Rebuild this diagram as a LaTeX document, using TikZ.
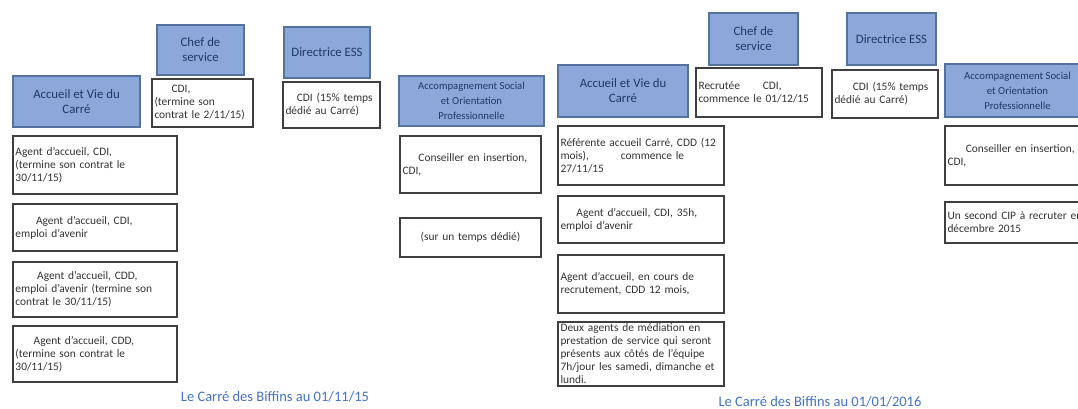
\documentclass[tikz,border=0pt]{standalone}
\usepackage{fontspec}
\setmainfont{Carlito}
\usepackage{xcolor}
\definecolor{headfill}{HTML}{8CA8DA}
\definecolor{headline}{HTML}{55719E}
\definecolor{headtext}{HTML}{1F3A68}
\definecolor{cardline}{HTML}{3F3F3F}
\definecolor{cardtext}{HTML}{333333}
\definecolor{captext}{HTML}{4472C4}
\tikzset{
  headbox/.style={draw=headline, line width=1.2pt, fill=headfill, text=headtext,
    align=center, inner sep=0pt, font=\fontsize{12.8}{15}\selectfont},
  cardbox/.style={draw=cardline, line width=1.2pt, fill=white, text=cardtext,
    align=left, inner xsep=2.5pt, inner ysep=0pt, minimum width=#1, text width=#1-5,
    font=\fontsize{11.4}{13}\selectfont},
  captionline/.style={text=captext, font=\fontsize{14.5}{16}\selectfont}
}

\begin{document}
\begin{tikzpicture}[x=1pt,y=-1pt]
\useasboundingbox (0,0) rectangle (1078,409);
\clip (0,0) rectangle (1078,409);

% au 01/11/15
\node[headbox, minimum width=127, minimum height=51] (accL) at (76.5,101.5) {Accueil et Vie du\\Carré};
\node[headbox, minimum width=87, minimum height=50] (chefL) at (200.5,50) {Chef de\\service};
\node[headbox, minimum width=86, minimum height=51] (dirL) at (327,52.5) {Directrice ESS};
\node[headbox, minimum width=145, minimum height=50, font=\fontsize{10.7}{15}\selectfont] (asopL) at (471.5,101) {Accompagnement Social\\et Orientation\\Professionnelle};

\node[cardbox=101, minimum height=48] (chefLtxt) at (202.5,103) {\hspace*{1.5em}CDI,\\(termine son\\contrat le 2/11/15)};
\node[cardbox=97, minimum height=46] (dirLtxt) at (331.5,105) {\hspace*{1em}CDI (15\% temps\\dédié au Carré)};

\node[cardbox=164, minimum height=58] (agL1) at (95,165) {Agent d'accueil, CDI,\\(termine son contrat le\\30/11/15)};
\node[cardbox=164, minimum height=47] (agL2) at (95,227.5) {\hspace*{1.8em}Agent d'accueil, CDI,\\emploi d'avenir};
\node[cardbox=164, minimum height=55] (agL3) at (95,289.5) {\hspace*{1.9em}Agent d'accueil, CDD,\\emploi d'avenir (termine son\\contrat le 30/11/15)};
\node[cardbox=164, minimum height=56] (agL4) at (95,354) {\hspace*{1.6em}Agent d'accueil, CDD,\\(termine son contrat le\\30/11/15)};

\node[cardbox=141, minimum height=57] (cipL) at (470.5,164.5) {\hspace*{1.4em}Conseiller en insertion,\\CDI,};
\node[cardbox=141, minimum height=39, align=center] (tempsL) at (470.5,237.5) {(sur un temps dédié)};

\node[captionline] (capL) at (275,397) {Le Carré des Biffins au 01/11/15};

% au 01/01/2016
\node[headbox, minimum width=130, minimum height=52] (accR) at (623,91) {Accueil et Vie du\\Carré};
\node[headbox, minimum width=89, minimum height=52] (chefR) at (753.5,39) {Chef de\\service};
\node[headbox, minimum width=89, minimum height=52] (dirR) at (891.5,39) {Directrice ESS};
\node[headbox, minimum width=145, minimum height=53, font=\fontsize{10.7}{15}\selectfont] (asopR) at (1017.5,90.5) {Accompagnement Social\\et Orientation\\Professionnelle};

\node[cardbox=126, minimum height=49] (chefRtxt) at (759,92.5) {Recrutée\hspace*{2em}CDI,\\commence le 01/12/15};
\node[cardbox=106, minimum height=48] (dirRtxt) at (885,94) {\hspace*{1.6em}CDI (15\% temps\\dédié au Carré)};

\node[cardbox=166, minimum height=59] (refR) at (641,155.5) {Référente accueil Carré, CDD (12\\mois),\hspace*{2.8em}commence le\\27/11/15};
\node[cardbox=166, minimum height=47] (agR2) at (641,219.5) {\hspace*{1.4em}Agent d'accueil, CDI, 35h,\\emploi d'avenir};
\node[cardbox=166, minimum height=58] (agR3) at (641,284) {Agent d'accueil, en cours de\\recrutement, CDD 12 mois,};
\node[cardbox=166, minimum height=64] (medR) at (641,354) {Deux agents de médiation en\\prestation de service qui seront\\présents aux côtés de l'équipe\\7h/jour les samedi, dimanche et\\lundi.};

\node[cardbox=156, minimum height=59] (cipR) at (1023,155.5) {\hspace*{1.6em}Conseiller en insertion,\\CDI,};
\node[cardbox=156, minimum height=41] (cip2R) at (1023,222.5) {Un second CIP à recruter en\\décembre 2015};

\node[captionline] (capR) at (820,402) {Le Carré des Biffins au 01/01/2016};

\end{tikzpicture}
\end{document}
